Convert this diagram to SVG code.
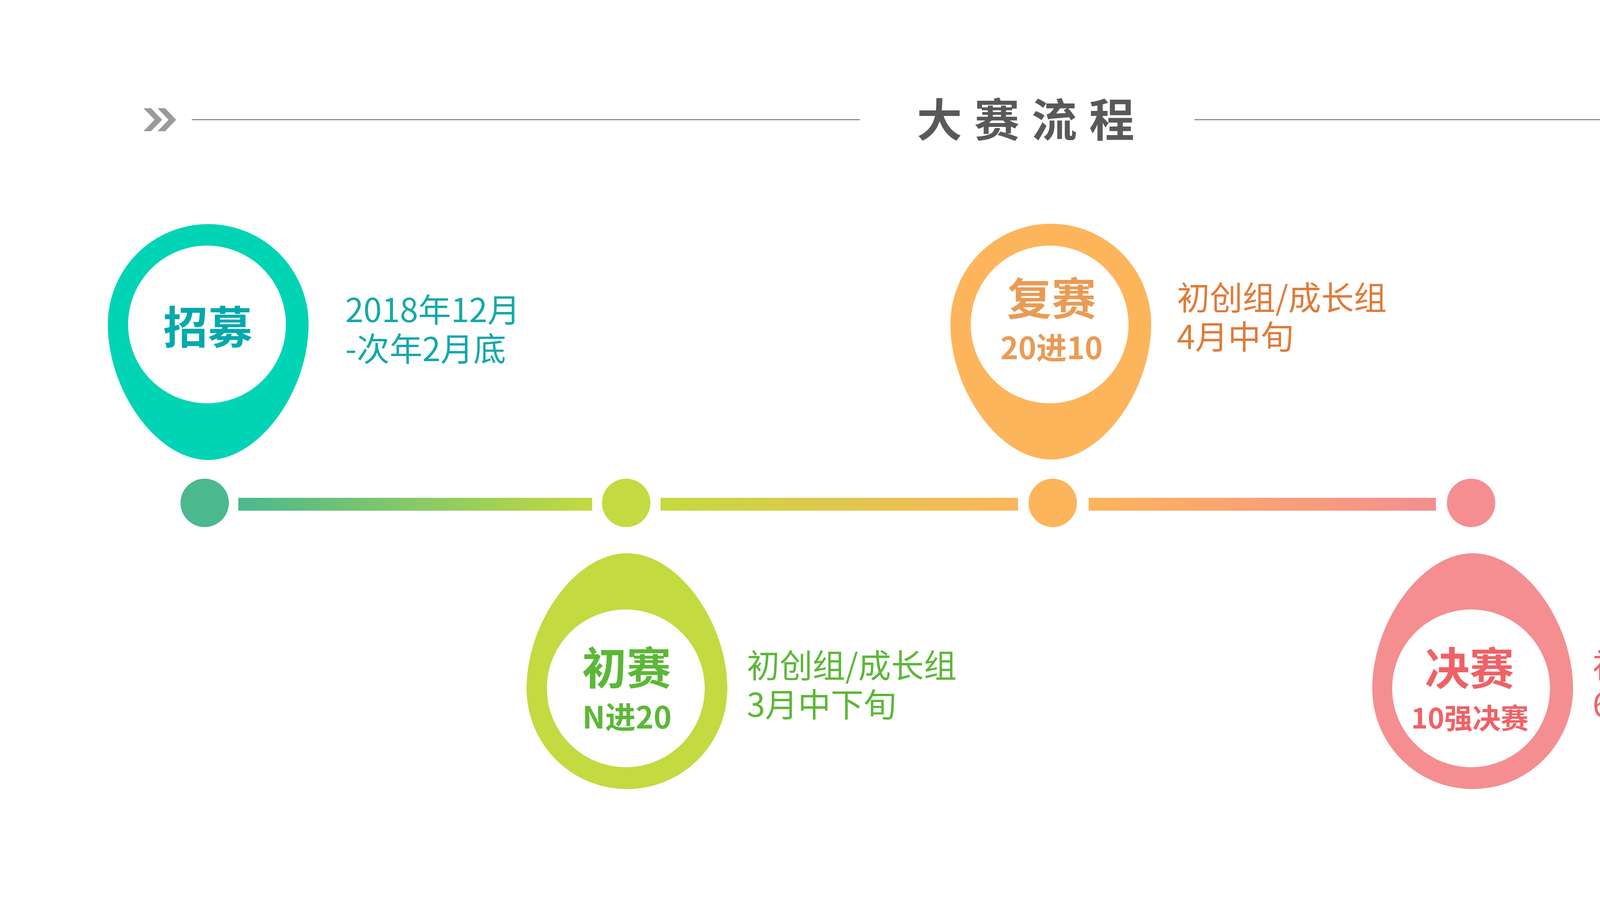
<svg xmlns="http://www.w3.org/2000/svg" width="5167" height="2300" viewBox="0 0 5167 2300">
<style>
.t{font-family:"Noto Sans CJK SC","Noto Sans",sans-serif}
.b{font-weight:700}
.title{font-size:116px;fill:#595959;letter-spacing:31px}
.big{font-size:114px;text-anchor:middle}
.sub{font-size:78px;text-anchor:middle}
.desc{font-size:84px}
.hl{stroke:#7a7a7a;stroke-width:2.5;fill:none}
.inner{fill:#ffffff}
</style>
<defs>
<path id="pin" d="M0 -257 A257 257 0 0 1 257 0 C257 169 132 347 0 347 C-132 347 -257 169 -257 0 A257 257 0 0 1 0 -257 Z"/>
<path id="chev" d="M367.3 277.3 H386.7 L415 306.7 L386.7 336 H367.3 L395.7 306.7 Z M403.3 277.3 H422.7 L451 306.7 L422.7 336 H403.3 L431.7 306.7 Z"/>
<linearGradient id="g1" x1="0" y1="0" x2="1" y2="0"><stop offset="0" stop-color="#4cb88e"/><stop offset="1" stop-color="#c3da40"/></linearGradient>
<linearGradient id="g2" x1="0" y1="0" x2="1" y2="0"><stop offset="0" stop-color="#c3da40"/><stop offset="1" stop-color="#fdb55c"/></linearGradient>
<linearGradient id="g3" x1="0" y1="0" x2="1" y2="0"><stop offset="0" stop-color="#fdb55c"/><stop offset="1" stop-color="#f48e91"/></linearGradient>
</defs>
<rect width="5167" height="2300" fill="#ffffff"/>
<g id="header">
<use href="#chev" fill="#9a9a9a"/>
<use href="#chev" fill="#9a9a9a" transform="translate(5259,0) scale(-1,1)"/>
<line class="hl" x1="491" y1="306.5" x2="2201" y2="306.5"/>
<line class="hl" x1="3058" y1="306.5" x2="4768" y2="306.5"/>
<text class="t b title" x="2347" y="350">大赛流程</text>
</g>
<g id="connectors">
<rect x="610" y="1275" width="906" height="33" fill="url(#g1)"/>
<rect x="1691" y="1275" width="915" height="33" fill="url(#g2)"/>
<rect x="2787" y="1275" width="889" height="33" fill="url(#g3)"/>
</g>
<g id="node-recruit">
<use href="#pin" fill="#00d4b4" transform="translate(533,831)"/>
<circle class="inner" cx="530" cy="831" r="202"/>
<circle cx="524" cy="1288" r="62" fill="#4cb88e"/>
<text class="t b big" x="532" y="880" fill="#00a9ad">招募</text>
<text class="t desc" x="884" y="825" fill="#15a8ab">2018年12月</text>
<text class="t desc" x="884" y="925" fill="#15a8ab">-次年2月底</text>
</g>
<g id="node-prelim">
<use href="#pin" fill="#c3da40" transform="translate(1605,1764) scale(1,-1)"/>
<circle class="inner" cx="1602" cy="1763" r="202"/>
<circle cx="1603" cy="1288" r="62" fill="#c3da40"/>
<text class="t b big" x="1604" y="1753" fill="#5cb737">初赛</text>
<text class="t b sub" x="1605" y="1866" fill="#5cb737">N进20</text>
<text class="t desc" x="1912" y="1736" fill="#5cb737">初创组/成长组</text>
<text class="t desc" x="1912" y="1836" fill="#5cb737">3月中下旬</text>
</g>
<g id="node-semi">
<use href="#pin" fill="#fdb55c" transform="translate(2690,830)"/>
<circle class="inner" cx="2687" cy="831" r="202"/>
<circle cx="2695" cy="1288" r="62" fill="#fdb55c"/>
<text class="t b big" x="2692" y="807" fill="#e99b55">复赛</text>
<text class="t b sub" x="2692" y="920" fill="#e99b55">20进10</text>
<text class="t desc" x="3013" y="794" fill="#e07b39">初创组/成长组</text>
<text class="t desc" x="3013" y="894" fill="#e07b39">4月中旬</text>
</g>
<g id="node-final">
<use href="#pin" fill="#f48e91" transform="translate(3770,1764) scale(1,-1)"/>
<circle class="inner" cx="3766" cy="1763" r="202"/>
<circle cx="3766" cy="1288" r="62" fill="#f48e91"/>
<text class="t b big" x="3762" y="1754" fill="#f06165">决赛</text>
<text class="t b sub" x="3763" y="1866" fill="#f06165" style="font-size:72px">10强决赛</text>
<text class="t desc" x="4077" y="1736" fill="#f06367">初创组/成长组/国际团队</text>
<text class="t desc" x="4077" y="1836" fill="#f06367">6月初</text>
</g>
</svg>
